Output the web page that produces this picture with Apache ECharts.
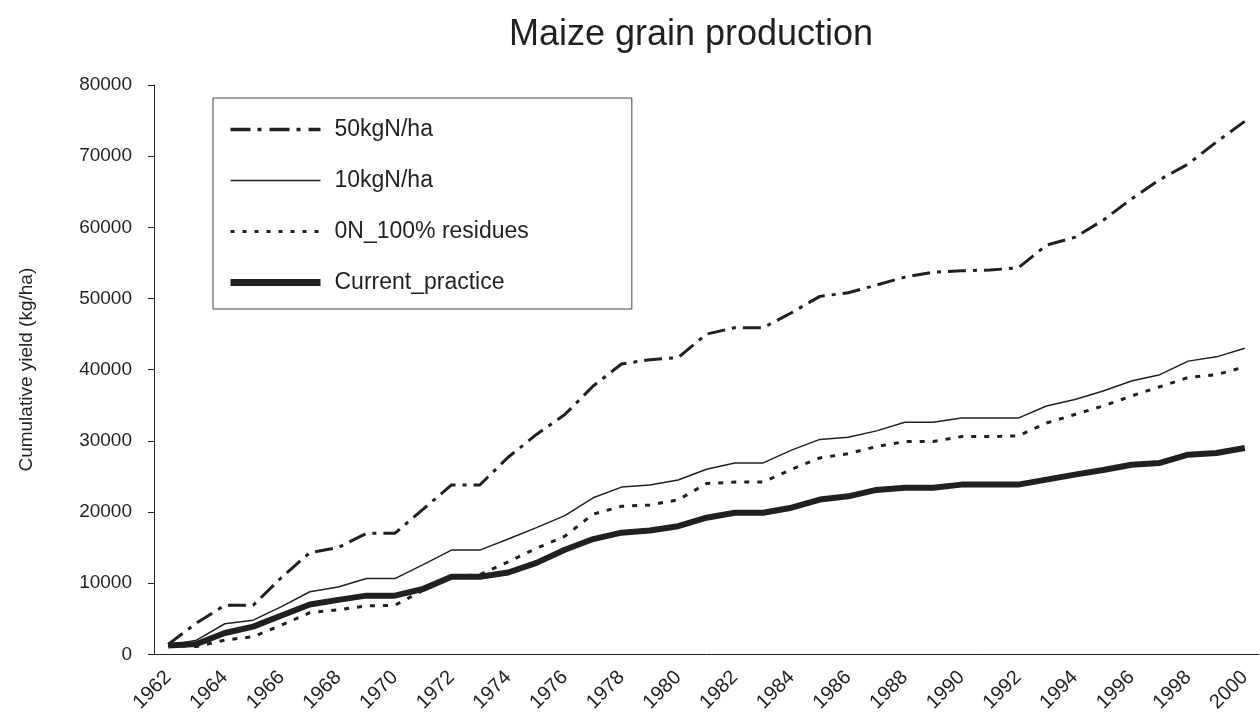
<!DOCTYPE html>
<html>
<head>
<meta charset="utf-8">
<title>Maize grain production</title>
<script src="https://cdn.jsdelivr.net/npm/echarts@6/dist/echarts.min.js"></script>
<style>
  html, body { margin: 0; padding: 0; background: #fff; }
  #chart { width: 1260px; height: 715px; }
</style>
</head>
<body>
<div id="chart"></div>
<script>
// years on the category axis
var years = [];
for (var y = 1962; y <= 2000; y++) years.push(String(y));

// cumulative yield (kg/ha)
var fert50 = [1400, 4400, 6900, 6900, 10800, 14300, 15000, 17000, 17000, 20400,
  23800, 23800, 27700, 30900, 33700, 37700, 40800, 41400, 41700, 45000,
  45900, 45900, 48000, 50300, 50800, 51900, 53000, 53700, 53900, 54000,
  54300, 57500, 58600, 61000, 64000, 66700, 68900, 72000, 74900];
var fert10 = [1260, 2000, 4300, 4800, 6700, 8800, 9450, 10650, 10650, 12600,
  14650, 14650, 16200, 17800, 19500, 22000, 23500, 23800, 24500, 26000,
  26900, 26900, 28700, 30200, 30500, 31400, 32600, 32600, 33200, 33200,
  33200, 34900, 35800, 37000, 38400, 39300, 41200, 41800, 43000];
var residues0N = [1260, 1100, 2000, 2480, 4100, 5850, 6250, 6800, 6900, 9000,
  10900, 11200, 13000, 14900, 16600, 19700, 20800, 21000, 21700, 24000,
  24200, 24200, 26000, 27600, 28200, 29200, 29900, 29900, 30600, 30600,
  30700, 32500, 33700, 34900, 36300, 37600, 38900, 39300, 40400];
var currentPractice = [1250, 1450, 3000, 3900, 5450, 7000, 7650, 8250, 8250, 9200,
  10900, 10900, 11500, 12850, 14700, 16200, 17100, 17400, 18000, 19200,
  19900, 19900, 20600, 21750, 22200, 23100, 23400, 23400, 23850, 23850,
  23850, 24550, 25250, 25900, 26650, 26900, 28050, 28300, 29000];

var ink = '#231f20';
var font = 'Liberation Sans, Arial, sans-serif';

var myChart = echarts.init(document.getElementById('chart'));

var option = {
  backgroundColor: '#fff',
  animation: false,
  color: [ink, ink, ink, ink],
  title: {
    text: 'Maize grain production',
    left: 686,
    textAlign: 'center',
    top: 12,
    textStyle: { fontFamily: font, fontSize: 36, fontWeight: 'normal', color: ink }
  },
  legend: {
    orient: 'vertical',
    left: 213,
    top: 98,
    padding: [20, 103, 15, 14],
    itemWidth: 90,
    itemHeight: 23,
    itemGap: 28,
    borderColor: '#444',
    borderWidth: 1,
    itemStyle: { opacity: 0 },
    textStyle: { fontFamily: font, fontSize: 23, color: ink, padding: [0, 0, 0, 9] },
    data: [
      { name: '50kgN/ha', lineStyle: { width: 3.5, type: [20, 7, 4, 8], color: ink } },
      { name: '10kgN/ha', lineStyle: { width: 1.5, type: 'solid', color: ink } },
      { name: '0N_100% residues', lineStyle: { width: 3, type: [4, 8], color: ink } },
      { name: 'Current_practice', lineStyle: { width: 7, type: 'solid', color: ink } }
    ]
  },
  grid: { left: 154, right: 1, top: 85, bottom: 60 },
  xAxis: {
    type: 'category',
    data: years,
    boundaryGap: true,
    axisLine: { lineStyle: { color: ink, width: 1 } },
    axisTick: { interval: 0, length: 6, lineStyle: { color: ink } },
    axisLabel: {
      interval: 1,
      rotate: 45,
      margin: 20,
      fontFamily: font,
      fontSize: 20,
      color: ink
    },
    splitLine: { show: false }
  },
  yAxis: {
    type: 'value',
    min: 0,
    max: 80000,
    interval: 10000,
    name: 'Cumulative yield (kg/ha)',
    nameLocation: 'middle',
    nameGap: 118,
    nameTextStyle: { fontFamily: font, fontSize: 19, color: ink },
    axisLine: { show: true, lineStyle: { color: ink, width: 1 } },
    axisTick: { show: true, length: 6, lineStyle: { color: ink } },
    axisLabel: {
      margin: 22,
      fontFamily: font,
      fontSize: 19,
      color: ink,
      formatter: function (v) { return String(v); }
    },
    splitLine: { show: false }
  },
  series: [
    {
      name: '50kgN/ha',
      type: 'line',
      data: fert50,
      symbol: 'none',
      itemStyle: { color: ink },
      lineStyle: { color: ink, width: 3, type: [18, 7, 4, 7] }
    },
    {
      name: '10kgN/ha',
      type: 'line',
      data: fert10,
      symbol: 'none',
      itemStyle: { color: ink },
      lineStyle: { color: ink, width: 1.5 }
    },
    {
      name: '0N_100% residues',
      type: 'line',
      data: residues0N,
      symbol: 'none',
      itemStyle: { color: ink },
      lineStyle: { color: ink, width: 3, type: [5, 8] }
    },
    {
      name: 'Current_practice',
      type: 'line',
      data: currentPractice,
      symbol: 'none',
      itemStyle: { color: ink },
      lineStyle: { color: ink, width: 6 }
    }
  ]
};

myChart.setOption(option);
</script>
</body>
</html>
